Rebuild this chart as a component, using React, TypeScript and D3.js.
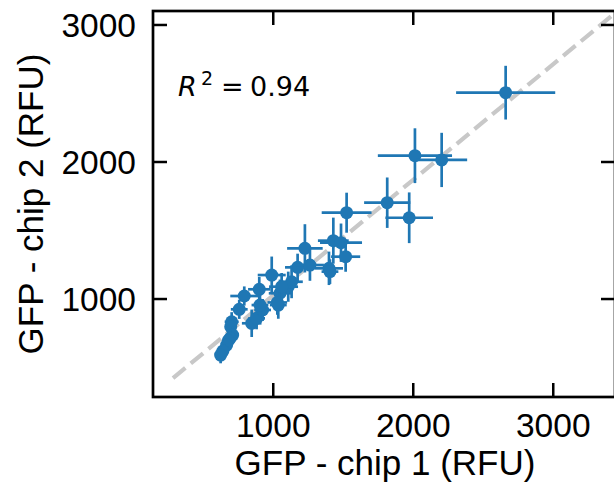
import React from "react";
import * as d3 from "d3";

// GFP readings per construct, chip 1 vs chip 2 (RFU), with std errors
const chip1 = [2660, 2012, 2203, 1814, 1971, 1524, 1429, 1484, 1517, 1398, 1405, 1226, 1174, 1262, 989, 900, 1048, 1107, 1131, 793, 757, 703, 696, 710, 691, 679, 667, 640, 624, 846, 881, 924, 1036, 1029, 1060, 905];
const chip2 = [2506, 2046, 2015, 1703, 1593, 1630, 1426, 1411, 1309, 1224, 1200, 1370, 1231, 1248, 1175, 1071, 1042, 1090, 1126, 1022, 925, 834, 798, 737, 713, 696, 664, 620, 591, 823, 859, 920, 956, 975, 1090, 956];
const err1 = [354, 265, 182, 165, 170, 178, 110, 150, 104, 100, 60, 127, 90, 100, 100, 80, 80, 70, 80, 100, 60, 50, 40, 40, 40, 40, 40, 30, 30, 70, 60, 60, 60, 70, 90, 60];
const err2 = [196, 200, 198, 184, 185, 146, 168, 140, 110, 122, 90, 176, 100, 115, 135, 90, 100, 110, 120, 70, 70, 70, 60, 60, 60, 50, 50, 50, 60, 100, 80, 80, 100, 90, 100, 80];

const xTicks = [1000, 2000, 3000];
const yTicks = [1000, 2000, 3000];

// linear fit shown as dashed line
const fitX = [284, 3441];
const fitIntercept = 183.4;
const fitSlope = 0.8437;
const r2Label = "0.94";

const blue = "#1f77b4";

export default function App() {
  const left = 153, right = 615, top = 11, bottom = 397;
  const x = d3.scaleLinear().domain([141, 3441]).range([left, right]);
  const y = d3.scaleLinear().domain([285, 3102]).range([bottom, top]);

  const pts = chip1.map((v, i) => ({ x: v, y: chip2[i], ex: err1[i], ey: err2[i] }));
  const fitLine = d3.line<number>().x((d) => x(d)).y((d) => y(fitIntercept + fitSlope * d));

  const tickLen = 14;
  const font = "'Liberation Sans', Arial, sans-serif";

  return (
    <svg width={614} height={493} style={{ position: "absolute", left: 0, top: 0, background: "#fff" }}>
      <defs>
        <clipPath id="plot">
          <rect x={left} y={top} width={right - left} height={bottom - top} />
        </clipPath>
      </defs>

      <g clipPath="url(#plot)">
        <path d={fitLine(fitX) || ""} fill="none" stroke="#c8c8c8" strokeWidth={4.2} strokeDasharray="16,7" />
        {pts.map((p, i) => (
          <g key={i}>
            <line x1={x(p.x - p.ex)} x2={x(p.x + p.ex)} y1={y(p.y)} y2={y(p.y)} stroke={blue} strokeWidth={2.7} />
            <line x1={x(p.x)} x2={x(p.x)} y1={y(p.y - p.ey)} y2={y(p.y + p.ey)} stroke={blue} strokeWidth={2.7} />
            <circle cx={x(p.x)} cy={y(p.y)} r={6.5} fill={blue} />
          </g>
        ))}
      </g>

      {/* ticks, inward on all sides */}
      {xTicks.map((t) => (
        <g key={"x" + t}>
          <line x1={x(t)} x2={x(t)} y1={bottom} y2={bottom - tickLen} stroke="#000" strokeWidth={2.5} />
          <line x1={x(t)} x2={x(t)} y1={top} y2={top + tickLen} stroke="#000" strokeWidth={2.5} />
          <text x={x(t)} y={437} textAnchor="middle" fontFamily={font} fontSize={33.5} fill="#000">
            {t}
          </text>
        </g>
      ))}
      {yTicks.map((t) => (
        <g key={"y" + t}>
          <line x1={left} x2={left + tickLen} y1={y(t)} y2={y(t)} stroke="#000" strokeWidth={2.5} />
          <line x1={right} x2={right - tickLen} y1={y(t)} y2={y(t)} stroke="#000" strokeWidth={2.5} />
          <text x={136} y={y(t) + 12} textAnchor="end" fontFamily={font} fontSize={33.5} fill="#000">
            {t}
          </text>
        </g>
      ))}

      <rect x={left} y={top} width={right - left} height={bottom - top} fill="none" stroke="#000" strokeWidth={2.7} />

      <text x={385} y={475} textAnchor="middle" fontFamily={font} fontSize={35} fill="#000">
        GFP - chip 1 (RFU)
      </text>
      <text
        transform={`translate(43,${(top + bottom) / 2}) rotate(-90)`}
        textAnchor="middle"
        fontFamily={font}
        fontSize={35}
        fill="#000"
      >
        GFP - chip 2 (RFU)
      </text>

      <text y={95.7} fontFamily="'DejaVu Sans', sans-serif" fontSize={27} fill="#000">
        <tspan x={178} fontStyle="italic">R</tspan>
        <tspan x={201} dy={-11} fontSize={19}>2</tspan>
        <tspan x={221} dy={11}>=</tspan>
        <tspan x={250}>{r2Label}</tspan>
      </text>
    </svg>
  );
}
